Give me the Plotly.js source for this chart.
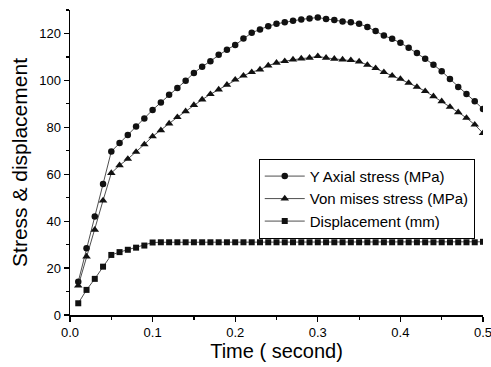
<!DOCTYPE html>
<html>
<head>
<meta charset="utf-8">
<script src="https://cdn.plot.ly/plotly-3.0.1.min.js"></script>
<style>html,body{margin:0;padding:0;background:#fff;}#chart{width:491px;height:367px;}</style>
</head>
<body>
<div id="chart"></div>
<script>
const time = [0.01,0.02,0.03,0.04,0.05,0.06,0.07,0.08,0.09,0.10,
  0.11,0.12,0.13,0.14,0.15,0.16,0.17,0.18,0.19,0.20,
  0.21,0.22,0.23,0.24,0.25,0.26,0.27,0.28,0.29,0.30,
  0.31,0.32,0.33,0.34,0.35,0.36,0.37,0.38,0.39,0.40,
  0.41,0.42,0.43,0.44,0.45,0.46,0.47,0.48,0.49,0.50];
const yAxialStress = [14.2,28.5,42,55.8,69.7,73.3,76.7,80.3,83.8,87.4,
  90.6,93.9,96.8,99.8,103.2,105.8,108.2,110.9,113.1,115.1,
  117.8,120.3,121.7,123.1,124.1,124.8,125.4,126,126.4,126.8,
  126.2,125.7,125.1,124.8,124.1,122.8,121,119.1,117.7,116,
  113.9,111.7,109.2,106.7,103.9,100.6,97.2,94.2,91.1,87.8];
const vonMisesStress = [12.5,24.9,36.3,48.8,60.5,63.8,66.5,69.5,72.7,76.1,
  78.7,81.6,84.3,86.8,89.5,91.8,94.1,96.1,98.1,100.3,
  102,103.5,104.6,106.3,107.5,108.2,108.9,109.3,109.6,110.3,
  109.6,109.2,108.9,108.6,108,106.6,105.2,103.5,102,100.6,
  98.9,97.2,95.4,93.2,91.1,88.7,86.4,84,81.1,77.5];
const displacement = [5,10.7,15.4,20.6,25.6,26.8,27.8,28.7,29.6,30.9,
  31,31,31,31,31,31,31,31,31,31,
  31,31,31,31,31,31,31,31,31,31,
  31,31,31,31,31,31,31,31,31,31,
  31,31,31,31,31,31,31,31,31,31.2];
const seriesNames = ["Y Axial stress (MPa)","Von mises stress (MPa)","Displacement (mm)"];
const xTickVals = [0,0.1,0.2,0.3,0.4,0.5];
const yTickVals = [0,20,40,60,80,100,120];

const lineStyle = {color:'#222', width:0.8};
const traces = [
  {x:time, y:yAxialStress, name:seriesNames[0], mode:'lines+markers', line:lineStyle,
   marker:{symbol:'circle', size:6.5, color:'#111'}},
  {x:time, y:vonMisesStress, name:seriesNames[1], mode:'lines+markers', line:lineStyle,
   marker:{symbol:'triangle-up', size:7.5, color:'#111'}},
  {x:time, y:displacement, name:seriesNames[2], mode:'lines+markers', line:lineStyle,
   marker:{symbol:'square', size:6, color:'#111'}}
];
const font = {family:'"Liberation Sans", Arial, sans-serif', color:'#000'};
const layout = {
  width:491, height:367,
  margin:{l:70, r:8, t:10, b:52},
  paper_bgcolor:'#fff', plot_bgcolor:'#fff',
  font:font,
  showlegend:true,
  legend:{x:0.457, y:0.512, xanchor:'left', yanchor:'top', bordercolor:'#000', borderwidth:1,
    bgcolor:'#fff', font:{family:font.family, size:15, color:'#000'}, tracegroupgap:0, itemwidth:40},
  xaxis:{range:[0,0.5], tickvals:xTickVals, ticktext:xTickVals.map(v=>v.toFixed(1)),
    showline:true, linecolor:'#000', linewidth:1.5, ticks:'outside', ticklen:5, tickwidth:1.2, tickcolor:'#000',
    showgrid:false, zeroline:false, tickfont:{size:13}, ticklabeloverflow:'allow',
    minor:{tickvals:[0.05,0.15,0.25,0.35,0.45], ticks:'outside', ticklen:3, tickcolor:'#000', showgrid:false},
    title:{text:'Time ( second)', font:{size:20}, standoff:0}},
  yaxis:{range:[0,130], tickvals:yTickVals,
    showline:true, linecolor:'#000', linewidth:1.5, ticks:'outside', ticklen:5, tickwidth:1.2, tickcolor:'#000',
    showgrid:false, zeroline:false, tickfont:{size:13},
    minor:{tickvals:[10,30,50,70,90,110,130], ticks:'outside', ticklen:3, tickcolor:'#000', showgrid:false},
    title:{text:'Stress & displacement', font:{size:21}, standoff:6}}
};
Plotly.newPlot('chart', traces, layout, {displayModeBar:false, staticPlot:true});
</script>
</body>
</html>
